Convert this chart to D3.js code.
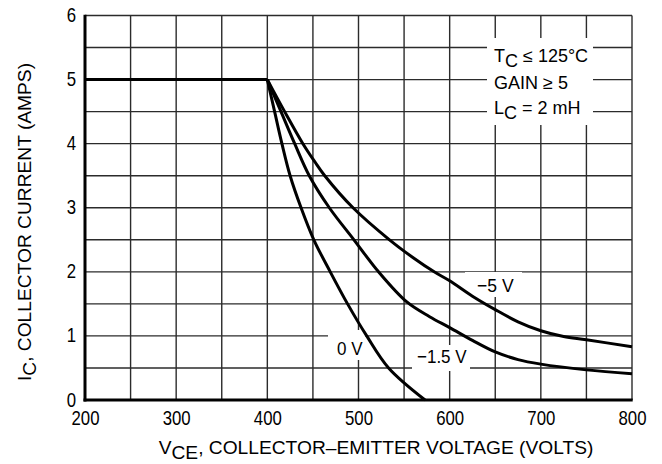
<!DOCTYPE html>
<html>
<head>
<meta charset="utf-8">
<script src="https://cdn.jsdelivr.net/npm/d3@7"></script>
<style>
  body { margin: 0; background: #fff; }
  svg { display: block; }
</style>
</head>
<body>
<svg width="662" height="464"></svg>
<script>
// tick labels + grid
var xTicks = [200, 300, 400, 500, 600, 700, 800];
var yTicks = [0, 1, 2, 3, 4, 5, 6];
var xGrid = [250, 300, 350, 400, 450, 500, 550, 600, 650, 700, 750, 800];
var yGrid = [0.5, 1, 1.5, 2, 2.5, 3, 3.5, 4, 4.5, 5, 5.5, 6];

// curves: [VCE volts, IC amps]
var flatPart = [[200, 5], [400, 5]];
var curve0V = [[400, 5], [408, 4.5], [416, 4], [425, 3.5], [437, 3], [451, 2.5], [469, 2],
  [488, 1.5], [509, 1], [533, 0.5], [573, 0]];
var curve15V = [[400, 5], [415, 4.5], [430, 4], [446, 3.5], [468, 3], [495, 2.5], [522, 2],
  [553, 1.53], [578, 1.3], [600, 1.13], [625, 0.93], [650, 0.75], [675, 0.63], [700, 0.56],
  [750, 0.47], [800, 0.41]];
var curve5V = [[400, 5], [419, 4.5], [439, 4], [452, 3.72], [463, 3.5], [494, 3], [534, 2.5],
  [560, 2.22], [583, 2], [600, 1.86], [625, 1.62], [650, 1.41], [675, 1.22], [700, 1.08],
  [725, 0.99], [750, 0.94], [800, 0.83]];

var svg = d3.select("svg");
var font = "'Liberation Sans', Arial, sans-serif";

var x = d3.scaleLinear().domain([200, 800]).range([85, 632]);
var y = d3.scaleLinear().domain([0, 6]).range([400, 15.5]);

// grid
var grid = svg.append("g").attr("stroke", "#2b2b2b").attr("stroke-width", 1.4);
grid.selectAll(".vg").data(xGrid).enter().append("line")
  .attr("x1", function(d) { return x(d); }).attr("x2", function(d) { return x(d); })
  .attr("y1", y(0)).attr("y2", y(6));
grid.selectAll(".hg").data(yGrid).enter().append("line")
  .attr("x1", x(200)).attr("x2", x(800))
  .attr("y1", function(d) { return y(d); }).attr("y2", function(d) { return y(d); });

// white patches behind the labels
var boxes = [[487, 38, 106, 87], [328, 330, 37, 30], [412, 345, 58, 26], [465, 272, 57, 25]];
svg.selectAll(".box").data(boxes).enter().append("rect")
  .attr("x", function(d) { return d[0]; }).attr("y", function(d) { return d[1]; })
  .attr("width", function(d) { return d[2]; }).attr("height", function(d) { return d[3]; })
  .attr("fill", "#fff");

// thick left + bottom axis lines
svg.append("line").attr("x1", x(200)).attr("x2", x(200)).attr("y1", y(6) - 0.7).attr("y2", y(0) + 1.5)
  .attr("stroke", "#000").attr("stroke-width", 3);
svg.append("line").attr("x1", x(200) - 1.5).attr("x2", x(800) + 0.7).attr("y1", y(0)).attr("y2", y(0))
  .attr("stroke", "#000").attr("stroke-width", 3);

// axes (labels only); digits are a narrow face, so squeeze Arial
var tsx = 0.84;
var xAxis = svg.append("g").attr("transform", "translate(0," + y(0) + ")")
  .call(d3.axisBottom(x).tickValues(xTicks).tickSize(0).tickPadding(0).tickFormat(d3.format("d")));
xAxis.select(".domain").remove();
xAxis.selectAll("text").attr("y", 25).attr("dy", null)
  .attr("transform", "scale(" + tsx + ",1)")
  .attr("font-family", font).attr("font-size", 20).attr("fill", "#000");

var yAxis = svg.append("g").attr("transform", "translate(" + x(200) + ",0)")
  .call(d3.axisLeft(y).tickValues(yTicks).tickSize(0).tickPadding(0).tickFormat(d3.format("d")));
yAxis.select(".domain").remove();
yAxis.selectAll("text").attr("x", -9 / tsx).attr("dy", 6)
  .attr("transform", "scale(" + tsx + ",1)")
  .attr("font-family", font).attr("font-size", 20).attr("fill", "#000");

// curves
var line = d3.line().x(function(d) { return x(d[0]); }).y(function(d) { return y(d[1]); })
  .curve(d3.curveCatmullRom.alpha(0.5));
[flatPart, curve0V, curve15V, curve5V].forEach(function(c) {
  svg.append("path").datum(c).attr("d", line)
    .attr("fill", "none").attr("stroke", "#000").attr("stroke-width", 3)
    .attr("stroke-linejoin", "round");
});

// text helper
function label(px, py, anchor, size, sx, parts, rot) {
  var t = svg.append("text")
    .attr("transform", "translate(" + px + "," + py + ")" + (rot ? " rotate(-90)" : "") + " scale(" + sx + ",1)")
    .attr("text-anchor", anchor)
    .attr("font-family", font).attr("font-size", size).attr("fill", "#000");
  parts.forEach(function(p) {
    t.append("tspan").attr("dy", p[1]).text(p[0]);
  });
  return t;
}

label(494, 62, "start", 18, 1, [["T", 0], ["C", 4.5], [" \u2264 125\u00B0C", -4.5]]);
label(494, 89, "start", 18, 1, [["GAIN \u2265 5", 0]]);
label(494, 114, "start", 18, 1, [["L", 0], ["C", 4.5], [" = 2 mH", -4.5]]);

label(337, 355, "start", 18.5, 0.92, [["0 V", 0]]);
label(417, 363, "start", 18.5, 0.92, [["\u22121.5 V", 0]]);
label(477, 292, "start", 18.5, 0.95, [["\u22125 V", 0]]);

label(376, 454, "middle", 19.2, 1, [["V", 0], ["CE", 5], [", COLLECTOR\u2013EMITTER VOLTAGE (VOLTS)", -5]]);
label(31, 222, "middle", 19.2, 1, [["I", 0], ["C", 5], [", COLLECTOR CURRENT (AMPS)", -5]], true);
</script>
</body>
</html>
